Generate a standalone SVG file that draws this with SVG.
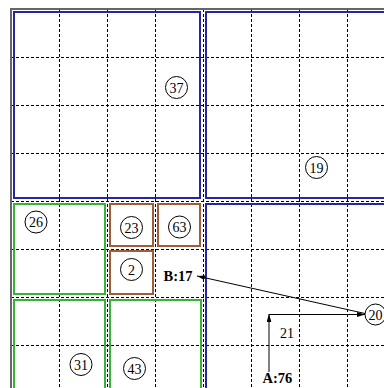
<svg xmlns="http://www.w3.org/2000/svg" width="384" height="388" viewBox="0 0 384 388">
<style>
.grid{stroke:#000;stroke-width:1;stroke-dasharray:3,2;fill:none;shape-rendering:crispEdges}
.root{fill:none;stroke:#666;stroke-width:2;shape-rendering:crispEdges}
.blue{fill:none;stroke:#2525a5;stroke-width:2;shape-rendering:crispEdges}
.green{fill:none;stroke:#38b238;stroke-width:2;shape-rendering:crispEdges}
.brown{fill:none;stroke:#a05c38;stroke-width:2;shape-rendering:crispEdges}
.node circle{fill:#fff;stroke:#000;stroke-width:1}
.node text{font-family:"Liberation Serif",serif;font-size:14px;text-anchor:middle;fill:#000}
.lbl{font-family:"Liberation Serif",serif;font-size:14.5px;font-weight:bold;fill:#000}
.num{font-family:"Liberation Serif",serif;font-size:14px;fill:#000}
.conn{stroke:#000;stroke-width:1;fill:none}
</style>
<defs>
<marker id="ah" viewBox="0 0 10 6" refX="10" refY="3" markerWidth="8" markerHeight="5" markerUnits="userSpaceOnUse" orient="auto">
<path d="M0,0 L10,3 L0,6 Z" fill="#000"/>
</marker>
</defs>
<rect width="384" height="388" fill="#fff"/>
<g id="grid">
<path class="grid" d="M59.5,9V388M107.5,9V388M155.5,9V388M203.5,9V388M251.5,9V388M299.5,9V388M347.5,9V388"/>
<path class="grid" d="M11,57.5H384M11,105.5H384M11,153.5H384M11,201.5H384M11,249.5H384M11,297.5H384M11,345.5H384"/>
</g>
<g id="regions">
<rect class="root" x="11" y="9" width="384" height="384"/>
<rect class="blue" x="14" y="12" width="186" height="186"/>
<rect class="blue" x="206" y="12" width="186" height="186"/>
<rect class="blue" x="206" y="204" width="186" height="186"/>
<rect class="green" x="14" y="204" width="91" height="90"/>
<rect class="green" x="14" y="300" width="91" height="90"/>
<rect class="green" x="110" y="300" width="91" height="90"/>
<rect class="brown" x="110" y="204" width="43" height="42"/>
<rect class="brown" x="158" y="204" width="42" height="42"/>
<rect class="brown" x="110" y="251" width="43" height="43"/>
</g>
<g id="connectors">
<line class="conn" x1="365" y1="313.5" x2="197" y2="276" marker-end="url(#ah)"/>
<line class="conn" x1="269" y1="372" x2="269" y2="314" marker-end="url(#ah)"/>
<line class="conn" x1="269" y1="314.5" x2="365" y2="314.5" marker-end="url(#ah)"/>
<text class="num" x="287" y="338" text-anchor="middle">21</text>
</g>
<g id="n37" class="node"><circle cx="176.5" cy="87.5" r="11"/><text x="176.5" y="92.5">37</text></g>
<g id="n19" class="node"><circle cx="316.5" cy="167.5" r="11"/><text x="316.5" y="172.5">19</text></g>
<g id="n26" class="node"><circle cx="36" cy="222" r="11"/><text x="36" y="227">26</text></g>
<g id="n23" class="node"><circle cx="131.5" cy="227.5" r="11"/><text x="131.5" y="232.5">23</text></g>
<g id="n63" class="node"><circle cx="179.5" cy="227" r="11"/><text x="179.5" y="232">63</text></g>
<g id="n2" class="node"><circle cx="131.5" cy="269.5" r="11"/><text x="131.5" y="274.5">2</text></g>
<g id="n31" class="node"><circle cx="81" cy="364.5" r="11"/><text x="81" y="369.5">31</text></g>
<g id="n43" class="node"><circle cx="134.5" cy="368.5" r="11"/><text x="134.5" y="373.5">43</text></g>
<g id="n20" class="node"><circle cx="375.5" cy="314.5" r="10.5"/><text x="375.5" y="319.5">20</text></g>
<g id="B17"><text class="lbl" x="163.5" y="281">B:17</text></g>
<g id="A76"><text class="lbl" x="262.5" y="383">A:76</text></g>
</svg>
